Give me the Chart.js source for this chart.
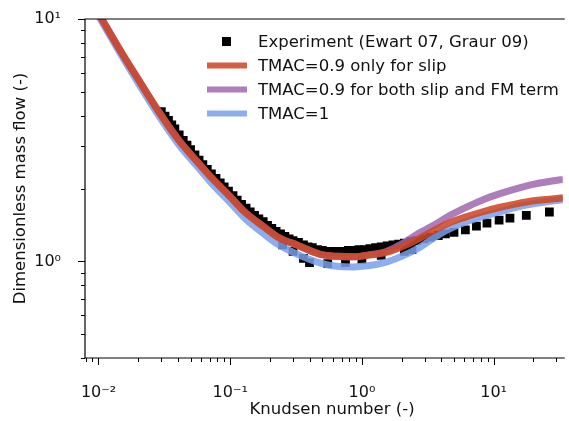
<!DOCTYPE html>
<html>
<head>
<meta charset="utf-8">
<script src="https://cdn.jsdelivr.net/npm/chart.js@4.4.1/dist/chart.umd.min.js"></script>
<style>
  html, body { margin: 0; padding: 0; background: #fff; overflow: hidden; }
  #knudsenChart { display: block; width: 569px; height: 421px; }
</style>
</head>
<body>
<canvas id="knudsenChart" width="569" height="421"></canvas>
<script>
// model curves, all on the same Knudsen grid
const knModel = [0.01, 0.015, 0.02, 0.03, 0.0408, 0.06, 0.0724, 0.1, 0.129, 0.18, 0.229, 0.324, 0.484, 0.65, 0.862, 1.1, 1.53, 2.0, 2.72, 3.5, 4.57, 6, 8.15, 11, 14.5, 20, 33.7, 41];
const qSlipOnly = [10.55, 7.25, 5.65, 4.0, 3.16, 2.48, 2.21, 1.85, 1.60, 1.39, 1.263, 1.167, 1.07, 1.05, 1.045, 1.06, 1.09, 1.15, 1.244, 1.34, 1.44, 1.52, 1.60, 1.67, 1.725, 1.78, 1.83, 1.845];
const qSlipAndFM = [10.55, 7.25, 5.65, 4.0, 3.16, 2.48, 2.21, 1.85, 1.60, 1.39, 1.263, 1.167, 1.07, 1.05, 1.045, 1.062, 1.10, 1.18, 1.31, 1.41, 1.54, 1.66, 1.79, 1.90, 1.99, 2.08, 2.18, 2.21];
const qTmac1 = [10.3, 7.05, 5.45, 3.85, 3.03, 2.37, 2.1, 1.75, 1.51, 1.30, 1.18, 1.07, 0.985, 0.955, 0.95, 0.96, 0.995, 1.05, 1.14, 1.25, 1.36, 1.45, 1.53, 1.60, 1.67, 1.73, 1.80, 1.815];

// experiment (Ewart 07, Graur 09)
const knExp = [0.030, 0.032, 0.034, 0.036, 0.038, 0.041, 0.044, 0.047, 0.050, 0.054, 0.058, 0.062, 0.067, 0.072, 0.078, 0.084, 0.090, 0.097, 0.105, 0.113, 0.122, 0.132, 0.142, 0.153, 0.165, 0.178, 0.192, 0.207, 0.223, 0.241, 0.26, 0.28, 0.30, 0.33, 0.36, 0.39, 0.42, 0.46, 0.50, 0.55, 0.60, 0.66, 0.72, 0.79, 0.87, 0.95, 1.05, 1.15, 1.27, 1.4, 1.55, 1.72, 1.9, 2.1, 2.35, 2.6, 2.95, 3.3, 3.8, 4.3, 5.0, 6.1, 7.4, 8.9, 11, 13.3, 17.7, 26.5,
  0.25, 0.30, 0.36, 0.40, 0.55, 0.75, 1.0, 1.4, 2.1, 2.4];
const qExp = [4.15, 3.98, 3.82, 3.66, 3.52, 3.33, 3.16, 3.02, 2.89, 2.75, 2.62, 2.51, 2.40, 2.30, 2.20, 2.11, 2.03, 1.95, 1.87, 1.79, 1.72, 1.66, 1.60, 1.55, 1.50, 1.46, 1.41, 1.37, 1.33, 1.30, 1.27, 1.24, 1.22, 1.20, 1.17, 1.15, 1.14, 1.12, 1.11, 1.10, 1.10, 1.10, 1.10, 1.11, 1.11, 1.12, 1.12, 1.13, 1.14, 1.15, 1.16, 1.17, 1.18, 1.19, 1.21, 1.22, 1.24, 1.26, 1.28, 1.30, 1.32, 1.35, 1.40, 1.44, 1.48, 1.51, 1.55, 1.60,
  1.17, 1.10, 1.03, 0.99, 0.98, 0.99, 1.02, 1.06, 1.10, 1.12];

const xTickValues = [0.008, 0.009, 0.01, 0.02, 0.03, 0.04, 0.05, 0.06, 0.07, 0.08, 0.09, 0.1, 0.2, 0.3, 0.4, 0.5, 0.6, 0.7, 0.8, 0.9, 1, 2, 3, 4, 5, 6, 7, 8, 9, 10, 20, 30];
const yTickValues = [0.4, 0.5, 0.6, 0.7, 0.8, 0.9, 1, 2, 3, 4, 5, 6, 7, 8, 9, 10];

const xTitle = 'Knudsen number (-)';
const yTitle = 'Dimensionless mass flow (-)';

const legendItems = [
  { label: 'Experiment (Ewart 07, Graur 09)', kind: 'square', color: '#000' },
  { label: 'TMAC=0.9 only for slip', kind: 'line', color: 'rgba(205,72,38,0.88)' },
  { label: 'TMAC=0.9 for both slip and FM term', kind: 'line', color: 'rgba(160,102,176,0.85)' },
  { label: 'TMAC=1', kind: 'line', color: 'rgba(120,160,238,0.85)' }
];

const FONT = "'DejaVu Sans', sans-serif";
const supMap = { '-': '\u207B', '0': '\u2070', '1': '\u00B9', '2': '\u00B2', '3': '\u00B3' };

function isDecade(v) {
  const e = Math.log10(v);
  return Math.abs(e - Math.round(e)) < 1e-9;
}
function decadeLabel(v) {
  if (!isDecade(v)) return '';
  const e = String(Math.round(Math.log10(v)));
  return '10' + e.split('').map(c => supMap[c]).join('');
}
function pairs(xs, ys) {
  return xs.map((x, i) => ({ x: x, y: ys[i] }));
}

// spines, tick marks (major longer than minor), x title and the in-axes legend
const axisDecor = {
  id: 'axisDecor',
  afterDraw(chart) {
    const { ctx, chartArea: a, scales: { x, y } } = chart;
    ctx.save();
    ctx.strokeStyle = '#000';
    ctx.lineWidth = 1.2;
    ctx.beginPath();
    ctx.moveTo(a.right + 2, a.top);
    ctx.lineTo(a.left, a.top);
    ctx.lineTo(a.left, a.bottom);
    ctx.lineTo(a.right + 2, a.bottom);
    ctx.stroke();

    ctx.lineWidth = 1;
    ctx.beginPath();
    xTickValues.forEach(v => {
      const px = Math.round(x.getPixelForValue(v)) + 0.5;
      const len = isDecade(v) ? 7 : 4;
      ctx.moveTo(px, a.bottom);
      ctx.lineTo(px, a.bottom + len);
    });
    yTickValues.forEach(v => {
      const py = Math.round(y.getPixelForValue(v)) + 0.5;
      const len = isDecade(v) ? 7 : 4;
      ctx.moveTo(a.left, py);
      ctx.lineTo(a.left - len, py);
    });
    ctx.stroke();

    // the original axes were cropped on the right, so its title sits a little right of centre
    ctx.fillStyle = '#111';
    ctx.font = '16.5px ' + FONT;
    ctx.textAlign = 'center';
    ctx.textBaseline = 'middle';
    ctx.fillText(xTitle, 332, 410);

    const rowY = [41.5, 65.5, 89.5, 113.5];
    ctx.textAlign = 'left';
    legendItems.forEach((item, i) => {
      const cy = rowY[i];
      if (item.kind === 'square') {
        ctx.fillStyle = item.color;
        ctx.fillRect(222, cy - 4.5, 9, 9);
      } else {
        ctx.strokeStyle = item.color;
        ctx.lineWidth = 6;
        ctx.beginPath();
        ctx.moveTo(207, cy);
        ctx.lineTo(247, cy);
        ctx.stroke();
      }
      ctx.fillStyle = '#111';
      ctx.fillText(item.label, 258, cy + 1);
    });
    ctx.restore();
  }
};

const lineStyle = (color, order) => ({
  showLine: true,
  borderColor: color,
  backgroundColor: color,
  borderWidth: 7,
  pointRadius: 0,
  cubicInterpolationMode: 'monotone',
  clip: 0,
  order: order
});

new Chart(document.getElementById('knudsenChart').getContext('2d'), {
  type: 'scatter',
  data: {
    datasets: [
      Object.assign({ label: 'TMAC=0.9 only for slip', data: pairs(knModel, qSlipOnly) }, lineStyle(legendItems[1].color, 1)),
      Object.assign({ label: 'TMAC=0.9 for both slip and FM term', data: pairs(knModel, qSlipAndFM) }, lineStyle(legendItems[2].color, 2)),
      Object.assign({ label: 'TMAC=1', data: pairs(knModel, qTmac1) }, lineStyle(legendItems[3].color, 3)),
      {
        label: 'Experiment (Ewart 07, Graur 09)',
        data: pairs(knExp, qExp),
        pointStyle: 'rect',
        pointRadius: 6.2,
        pointBackgroundColor: '#000',
        pointBorderWidth: 0,
        clip: 0,
        order: 4
      }
    ]
  },
  options: {
    responsive: false,
    animation: false,
    events: [],
    layout: { padding: { top: 19, left: 0, right: 0, bottom: 0 } },
    plugins: {
      legend: { display: false },
      tooltip: { enabled: false }
    },
    scales: {
      x: {
        type: 'logarithmic',
        min: 0.0079,
        max: 33.5,
        grid: { display: false },
        border: { display: false },
        afterFit: (scale) => {
          scale.height = 63;
          scale.paddingLeft = 0;
          scale.paddingRight = 0;
        },
        afterBuildTicks: (scale) => { scale.ticks = xTickValues.map(v => ({ value: v })); },
        ticks: {
          autoSkip: false,
          maxRotation: 0,
          padding: 17,
          color: '#111',
          font: { family: FONT, size: 16 },
          callback: (v) => decadeLabel(v)
        },
        title: { display: false, text: xTitle }
      },
      y: {
        type: 'logarithmic',
        min: 0.4,
        max: 10,
        grid: { display: false },
        border: { display: false },
        afterFit: (scale) => {
          scale.width = 85;
          scale.paddingTop = 0;
          scale.paddingBottom = 0;
        },
        afterBuildTicks: (scale) => { scale.ticks = yTickValues.map(v => ({ value: v })); },
        ticks: {
          autoSkip: false,
          padding: 16,
          color: '#111',
          font: { family: FONT, size: 16 },
          callback: (v) => decadeLabel(v)
        },
        title: {
          display: true,
          text: yTitle,
          color: '#111',
          font: { family: FONT, size: 16.5 },
          padding: { top: 11, bottom: 0 }
        }
      }
    }
  },
  plugins: [axisDecor]
});
</script>
</body>
</html>
